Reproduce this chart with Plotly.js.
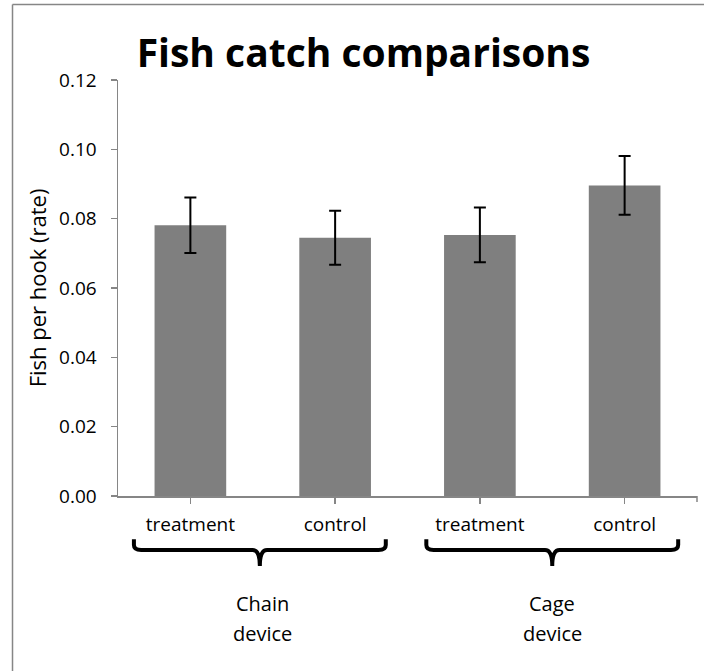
<!DOCTYPE html>
<html>
<head>
<meta charset="utf-8">
<script src="https://cdn.plot.ly/plotly-3.0.1.min.js"></script>
<style>html,body{margin:0;padding:0;background:#fff;}#chart{width:704px;height:671px;}</style>
</head>
<body>
<div id="chart"></div>
<script>
var categories = ["treatment", "control", "treatment ", "control "];
var tickLabels = ["treatment", "control", "treatment", "control"];
var rates = [0.0781, 0.0745, 0.0753, 0.0896];
var errors = [0.0080, 0.0078, 0.0079, 0.0085];
var groupNames = ["Chain", "Cage"];
var groupSub = ["device", "device"];
var groupCenters = [0.5, 2.5];
var yTicks = [0, 0.02, 0.04, 0.06, 0.08, 0.10, 0.12];
var yTickText = ["0.00", "0.02", "0.04", "0.06", "0.08", "0.10", "0.12"];

var FONT = "Open Sans, sans-serif";

var trace = {
  type: "bar",
  x: categories,
  y: rates,
  marker: {color: "#7f7f7f"},
  width: 0.495,
  error_y: {type: "data", array: errors, visible: true, color: "#000000", thickness: 2, width: 6},
  hoverinfo: "skip"
};

function bracePath(x0, x1, top, mid, tip) {
  var c = (x0 + x1) / 2;
  var dx = 0.05;
  var half = 0.05;
  return "M" + x0 + "," + top +
    " L" + x0 + "," + (mid + 0.012) +
    " Q" + x0 + "," + mid + " " + (x0 + dx) + "," + mid +
    " L" + (c - half) + "," + mid +
    " Q" + c + "," + mid + " " + c + "," + tip +
    " Q" + c + "," + mid + " " + (c + half) + "," + mid +
    " L" + (x1 - dx) + "," + mid +
    " Q" + x1 + "," + mid + " " + x1 + "," + (mid + 0.012) +
    " L" + x1 + "," + top;
}

var shapes = [
  {type: "line", xref: "paper", yref: "paper", x0: -0.1822, x1: -0.1822, y0: -0.6, y1: 1.1815,
   line: {color: "#868686", width: 1.5}},
  {type: "line", xref: "paper", yref: "paper", x0: -0.1822, x1: 1.05, y0: 1.1815, y1: 1.1815,
   line: {color: "#868686", width: 1.5}},
  {type: "path", xref: "x", yref: "paper", path: bracePath(-0.39, 1.35, -0.104, -0.130, -0.168),
   line: {color: "#000000", width: 4}},
  {type: "path", xref: "x", yref: "paper", path: bracePath(1.63, 3.37, -0.104, -0.130, -0.168),
   line: {color: "#000000", width: 4}},
  {type: "line", xref: "paper", yref: "paper", x0: 1, x1: 1, y0: 0, y1: -0.0145,
   line: {color: "#868686", width: 1.5}}
];

var annotations = [];
groupNames.forEach(function (t, i) {
  annotations.push({text: t, x: groupCenters[i], xref: "x", y: -0.2596, yref: "paper",
    showarrow: false, xanchor: "center", yanchor: "middle",
    font: {family: FONT, size: 20, color: "#000"}});
  annotations.push({text: groupSub[i], x: groupCenters[i], xref: "x", y: -0.3317, yref: "paper",
    showarrow: false, xanchor: "center", yanchor: "middle",
    font: {family: FONT, size: 20, color: "#000"}});
});

var layout = {
  width: 704, height: 671,
  margin: {l: 118, r: 7, t: 80, b: 175, pad: 0},
  paper_bgcolor: "#ffffff", plot_bgcolor: "#ffffff",
  showlegend: false,
  title: {text: "<b>Fish catch comparisons</b>", x: 363.5 / 704, xanchor: "center",
    y: 1 - 53 / 671, yanchor: "middle", font: {family: FONT, size: 39, color: "#000"}},
  xaxis: {type: "category", range: [-0.5, 3.5], tickvals: categories, ticktext: tickLabels,
    showline: true, linecolor: "#868686", linewidth: 1.5, ticks: "outside", ticklen: 6,
    tickcolor: "#868686", tickwidth: 1.5, showgrid: false, zeroline: false,
    ticklabelstandoff: 5,
    tickfont: {family: FONT, size: 19, color: "#000"}, fixedrange: true},
  yaxis: {range: [0, 0.12], tickvals: yTicks, ticktext: yTickText,
    showline: true, linecolor: "#868686", linewidth: 1.5, ticks: "outside", ticklen: 6,
    tickcolor: "#868686", tickwidth: 1.5, showgrid: false, zeroline: false,
    ticklabelstandoff: 10,
    tickfont: {family: FONT, size: 19, color: "#000"},
    title: {text: "Fish per hook (rate)", font: {family: FONT, size: 22, color: "#000"}, standoff: 6},
    fixedrange: true},
  shapes: shapes,
  annotations: annotations
};

Plotly.newPlot("chart", [trace], layout, {displayModeBar: false, staticPlot: true});
</script>
</body>
</html>
